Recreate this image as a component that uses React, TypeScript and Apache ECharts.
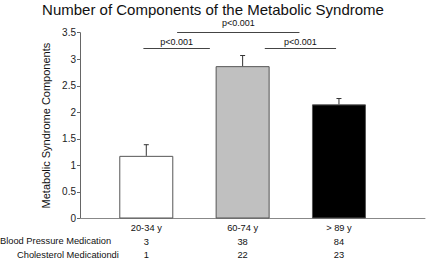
import React, { useEffect, useRef } from "react";
import * as echarts from "echarts";

const categories = ["20-34 y", "60-74 y", "> 89 y"];
const means = [1.18, 2.87, 2.15];
const errors = [0.21, 0.2, 0.11];
const barColors = ["#ffffff", "#c0c0c0", "#000000"];
const bpMedication = [3, 38, 84];
const cholMedication = [1, 22, 23];
const rowHeaders = ["Blood Pressure Medication", "Cholesterol Medicationdi"];
const brackets = [
  { from: 0.97, to: 1.66, y: 3.2, label: "p<0.001" },
  { from: 2.23, to: 2.97, y: 3.2, label: "p<0.001" },
  { from: 1.32, to: 2.59, y: 3.5, label: "p<0.001" },
];

const FONT = "'Liberation Sans', Arial, Helvetica, sans-serif";

export default function App() {
  const ref = useRef<HTMLDivElement>(null);
  useEffect(() => {
    if (!ref.current) return;
    const chart = echarts.init(ref.current, undefined, { renderer: "svg" });
    const xs = categories.map((_, i) => i + 1);
    chart.setOption({
      animation: false,
      textStyle: { fontFamily: FONT },
      title: {
        text: "Number of Components of the Metabolic Syndrome",
        left: "center",
        top: -3,
        textStyle: { fontFamily: FONT, fontSize: 15, fontWeight: "normal", color: "#111" },
      },
      grid: { left: 80, right: 1, top: 32.7, bottom: 43 },
      xAxis: {
        type: "value",
        min: 0.312,
        max: 3.893,
        splitLine: { show: false },
        axisTick: { show: false },
        axisLine: { show: true, lineStyle: { color: "#888", width: 1 } },
        axisLabel: {
          customValues: xs,
          margin: 3,
          fontSize: 9.3,
          lineHeight: 13.5,
          color: "#111",
          fontFamily: FONT,
          formatter: (v: number) => {
            const i = Math.round(v) - 1;
            return `${categories[i]}\n${bpMedication[i]}\n${cholMedication[i]}`;
          },
        },
      },
      yAxis: {
        type: "value",
        min: 0,
        max: 3.5,
        interval: 0.5,
        name: "Metabolic Syndrome Components",
        nameLocation: "middle",
        nameGap: 16,
        nameTextStyle: { fontSize: 11, color: "#111", fontFamily: FONT },
        splitLine: { show: false },
        axisLine: { show: true, lineStyle: { color: "#666", width: 1 } },
        axisTick: { show: true, length: 3, lineStyle: { color: "#666" } },
        axisLabel: { fontSize: 10, color: "#222", margin: 4, fontFamily: FONT },
      },
      series: [
        {
          type: "bar",
          barWidth: 54,
          data: means.map((m, i) => ({
            value: [xs[i], m],
            itemStyle: { color: barColors[i], borderColor: "#555", borderWidth: 1 },
          })),
          markLine: {
            symbol: "none",
            silent: true,
            lineStyle: { color: "#444", width: 1, type: "solid" },
            label: {
              show: true,
              position: "middle",
              distance: 2,
              fontSize: 9,
              color: "#111",
              fontFamily: FONT,
              formatter: (p: any) => p.data.name ?? p.name,
            },
            data: brackets.map((b, i) => [
              {
                coord: [b.from, b.y],
                name: b.label,
                label: { distance: i === 2 ? 5 : 2 },
              },
              { coord: [b.to, b.y] },
            ]),
          },
        },
        {
          type: "custom",
          data: means.map((m, i) => [xs[i], m, errors[i]]),
          renderItem: (params: any, api: any) => {
            const x = api.value(0);
            const y = api.value(1);
            const e = api.value(2);
            const p1 = api.coord([x, y]);
            const p2 = api.coord([x, y + e]);
            return {
              type: "group",
              children: [
                {
                  type: "line",
                  shape: { x1: p1[0], y1: p1[1], x2: p2[0], y2: p2[1] },
                  style: { stroke: "#333", lineWidth: 1 },
                },
                {
                  type: "line",
                  shape: { x1: p2[0] - 2.5, y1: p2[1], x2: p2[0] + 2.5, y2: p2[1] },
                  style: { stroke: "#333", lineWidth: 1 },
                },
              ],
            };
          },
          z: 3,
        },
      ],
      graphic: [
        {
          type: "text",
          left: 0,
          top: 236,
          style: { text: rowHeaders[0], fontSize: 9.3, fill: "#111", fontFamily: FONT },
        },
        {
          type: "text",
          left: 17,
          top: 250,
          style: { text: rowHeaders[1], fontSize: 9.3, fill: "#111", fontFamily: FONT },
        },
      ],
    });
    return () => chart.dispose();
  }, []);
  return (
    <div
      ref={ref}
      style={{ position: "fixed", left: 0, top: 0, width: 426, height: 262, background: "#fff" }}
    />
  );
}
